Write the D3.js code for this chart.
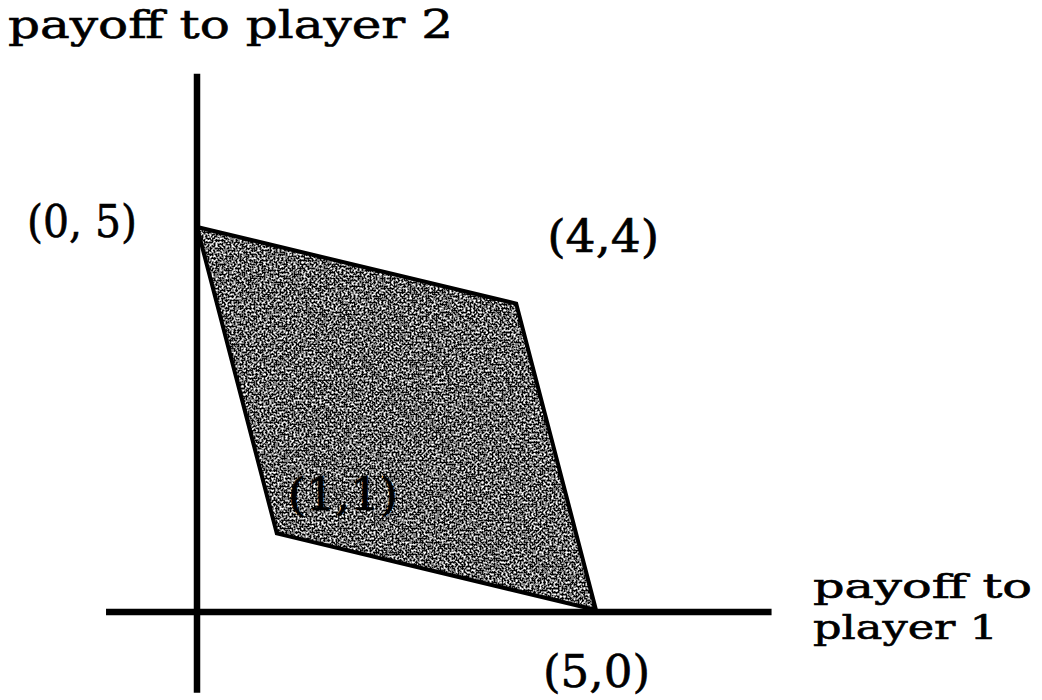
<!DOCTYPE html>
<html>
<head>
<meta charset="utf-8">
<script src="https://cdn.jsdelivr.net/npm/d3@7/dist/d3.min.js"></script>
<style>
  html, body { margin: 0; padding: 0; background: #fff; }
  svg { display: block; }
  text { font-family: "DejaVu Serif", "Liberation Serif", serif; fill: #000; stroke: #000; stroke-width: 0.6; }
</style>
</head>
<body>
<svg id="chart" width="1042" height="700"></svg>
<script>
// Feasible payoff region: corner points (player 1 payoff, player 2 payoff)
const vertexX = [0, 4, 5, 1];
const vertexY = [5, 4, 0, 1];
const vertexLabels = ["(0, 5)", "(4,4)", "(5,0)", "(1,1)"];
const axisXLabel = ["payoff to", "player 1"];
const axisYLabel = "payoff to player 2";

const svg = d3.select("#chart");

const x = d3.scaleLinear().domain([0, 5]).range([197, 596]);
const y = d3.scaleLinear().domain([0, 5]).range([610, 227]);

// grainy halftone fill for the region
const defs = svg.append("defs");
const f = defs.append("filter").attr("id", "grain")
  .attr("x", "0%").attr("y", "0%").attr("width", "100%").attr("height", "100%")
  .attr("color-interpolation-filters", "sRGB");
f.append("feTurbulence").attr("type", "fractalNoise")
  .attr("baseFrequency", "0.5").attr("numOctaves", 2).attr("seed", 7).attr("result", "n");
f.append("feColorMatrix").attr("in", "n").attr("type", "matrix")
  .attr("values", "1 0 0 0 0  1 0 0 0 0  1 0 0 0 0  0 0 0 0 1").attr("result", "g");
const ct = f.append("feComponentTransfer").attr("in", "g").attr("result", "q");
["feFuncR", "feFuncG", "feFuncB"].forEach(k =>
  ct.append(k).attr("type", "discrete").attr("tableValues", "0 0 0 0 0.1 0.5 0.85 1 1 1"));
f.append("feComposite").attr("in", "q").attr("in2", "SourceGraphic").attr("operator", "in");

const pts = vertexX.map((v, i) => [x(v), y(vertexY[i])]);
const line = d3.line().curve(d3.curveLinearClosed);

svg.append("path").attr("d", line(pts))
  .attr("fill", "#000").attr("filter", "url(#grain)");

// axes
const axisW = 6.5;
svg.append("line")
  .attr("x1", x(-1.14)).attr("x2", x(7.2))
  .attr("y1", y(0) + 2).attr("y2", y(0) + 2)
  .attr("stroke", "#000").attr("stroke-width", axisW);
svg.append("line")
  .attr("x1", x(0)).attr("x2", x(0))
  .attr("y1", y(-1.08)).attr("y2", y(7.0))
  .attr("stroke", "#000").attr("stroke-width", axisW);

// region outline
svg.append("path").attr("d", line(pts))
  .attr("fill", "none").attr("stroke", "#000")
  .attr("stroke-width", 4).attr("stroke-linejoin", "miter");

// vertex labels
const labelPos = [
  { dx: -170, dy: 10, len: 110 },
  { dx: 31, dy: -52, len: 112 },
  { dx: -53, dy: 77, len: 107 },
  { dx: 11, dy: -23, len: 110 }
];
vertexLabels.forEach((t, i) => {
  const p = labelPos[i];
  svg.append("text")
    .attr("x", x(vertexX[i]) + p.dx)
    .attr("y", y(vertexY[i]) + p.dy)
    .attr("font-size", 44)
    .attr("textLength", p.len).attr("lengthAdjust", "spacingAndGlyphs")
    .text(t);
});

// axis titles
svg.append("text").attr("x", 8).attr("y", 38).attr("font-size", 39)
  .attr("textLength", 445).attr("lengthAdjust", "spacingAndGlyphs")
  .text(axisYLabel);

const xLens = [219, 185];
axisXLabel.forEach((t, i) => {
  svg.append("text").attr("font-size", 34)
    .attr("x", 813).attr("y", 598 + i * 41)
    .attr("textLength", xLens[i]).attr("lengthAdjust", "spacingAndGlyphs")
    .text(t);
});
</script>
</body>
</html>
